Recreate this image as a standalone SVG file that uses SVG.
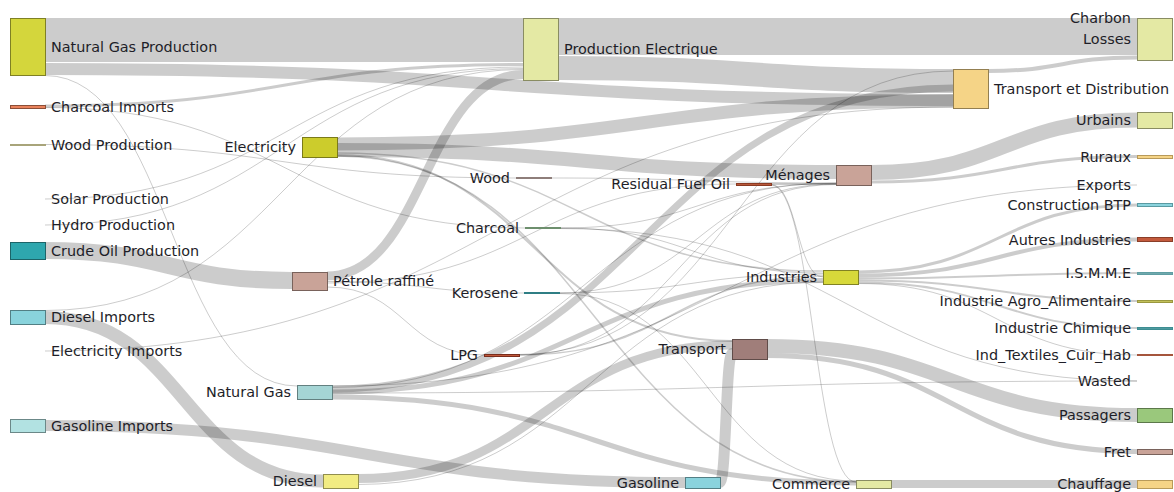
<svg xmlns="http://www.w3.org/2000/svg" width="1174" height="492" viewBox="0 0 1174 492">
  <style>
    .link { fill: none; stroke: #000; stroke-opacity: 0.2; }
    .node rect { shape-rendering: crispEdges; stroke-width: 1; }
    .node text { font-family: "DejaVu Sans", "Noto Sans", sans-serif; font-size: 14.4px; fill: #1e1e28; dominant-baseline: central; }
    .end { text-anchor: end; }
  </style>
  <rect width="1174" height="492" fill="#fff"/>

  <!-- energy flows, drawn beneath the nodes -->
  <g id="links">
    <path class="link" stroke-width="44" d="M45,40 C284,40 284,40 523,40"/>
    <path class="link" stroke-width="12" d="M45,69 C499,69 499,100 953,100"/>
    <path class="link" stroke-width="1" d="M45,75.5 C171,75.5 171,386 297,386"/>
    <path class="link" stroke-width="3" d="M45,106 C284,106 284,64.5 523,64.5"/>
    <path class="link" stroke-width="1" d="M45,107.5 C285,107.5 285,228 525,228"/>
    <path class="link" stroke-width="1" d="M45,144.5 C280.5,144.5 280.5,178 516,178"/>
    <path class="link" stroke-width="1" d="M45,199 C284,199 284,67 523,67"/>
    <path class="link" stroke-width="1" d="M45,225 C284,225 284,68.5 523,68.5"/>
    <path class="link" stroke-width="17" d="M45,250.5 C168.5,250.5 168.5,280.5 292,280.5"/>
    <path class="link" stroke-width="13" d="M45,317.5 C184,317.5 184,481 323,481"/>
    <path class="link" stroke-width="1" d="M45,310.5 C284,310.5 284,69.5 523,69.5"/>
    <path class="link" stroke-width="1" d="M45,351 C499,351 499,107 953,107"/>
    <path class="link" stroke-width="11" d="M45,425.5 C365,425.5 365,482.5 685,482.5"/>

    <path class="link" stroke-width="13" d="M337,144 C645,144 645,101 953,101"/>
    <path class="link" stroke-width="14" d="M337,150 C586.5,150 586.5,172 836,172"/>
    <path class="link" stroke-width="2" d="M337,155 C534.5,155 534.5,341 732,341"/>
    <path class="link" stroke-width="1.5" d="M337,156 C596.5,156 596.5,482 856,482"/>
    <path class="link" stroke-width="1.5" d="M337,153 C580,153 580,271 823,271"/>

    <path class="link" stroke-width="9" d="M327,276 C425,276 425,74.5 523,74.5"/>
    <path class="link" stroke-width="1" d="M327,281.5 C425.5,281.5 425.5,293 524,293"/>
    <path class="link" stroke-width="1" d="M327,287 C405.5,287 405.5,355 484,355"/>
    <path class="link" stroke-width="1" d="M327,283 C531.5,283 531.5,184 736,184"/>

    <path class="link" stroke-width="7" d="M332,389 C642.5,389 642.5,88 953,88"/>
    <path class="link" stroke-width="5" d="M332,392 C577.5,392 577.5,280.5 823,280.5"/>
    <path class="link" stroke-width="5" d="M332,397 C594,397 594,483 856,483"/>
    <path class="link" stroke-width="1" d="M332,393 C734.5,393 734.5,381 1137,381"/>
    <path class="link" stroke-width="1" d="M332,386 C734.5,386 734.5,185 1137,185"/>
    <path class="link" stroke-width="1" d="M332,387.5 C584,387.5 584,183 836,183"/>

    <path class="link" stroke-width="9" d="M358,478.5 C545,478.5 545,345 732,345"/>
    <path class="link" stroke-width="1" d="M358,484.5 C590.5,484.5 590.5,282 823,282"/>
    <path class="link" stroke-width="11" d="M720,482.5 C726,482.5 726,353.5 732,353.5"/>

    <path class="link" stroke-width="37" d="M558,36.5 C847.5,36.5 847.5,36.5 1137,36.5"/>
    <path class="link" stroke-width="24" d="M558,68 C755.5,68 755.5,81 953,81"/>

    <path class="link" stroke-width="1" d="M551,178 C693.5,178 693.5,183 836,183"/>
    <path class="link" stroke-width="1" d="M560,228 C698,228 698,183.5 836,183.5"/>
    <path class="link" stroke-width="1" d="M560,228 C691.5,228 691.5,273 823,273"/>
    <path class="link" stroke-width="1" d="M560,228.5 C848.5,228.5 848.5,381 1137,381"/>
    <path class="link" stroke-width="1" d="M559,293 C697.5,293 697.5,184 836,184"/>
    <path class="link" stroke-width="1" d="M559,293 C691,293 691,274 823,274"/>
    <path class="link" stroke-width="1" d="M559,293.5 C707.5,293.5 707.5,481 856,481"/>
    <path class="link" stroke-width="1" d="M519,355 C677.5,355 677.5,184.5 836,184.5"/>
    <path class="link" stroke-width="1.5" d="M519,355 C671,355 671,276 823,276"/>
    <path class="link" stroke-width="1" d="M519,354.5 C736,354.5 736,71 953,71"/>

    <path class="link" stroke-width="2" d="M771,184 C803.5,184 803.5,184 836,184"/>
    <path class="link" stroke-width="1" d="M771,184.5 C797,184.5 797,277 823,277"/>
    <path class="link" stroke-width="1" d="M771,185 C813.5,185 813.5,482 856,482"/>

    <path class="link" stroke-width="14" d="M767,346 C952,346 952,415 1137,415"/>
    <path class="link" stroke-width="5" d="M767,355.5 C952,355.5 952,451.5 1137,451.5"/>
    <path class="link" stroke-width="15" d="M871,172.5 C1004,172.5 1004,120 1137,120"/>
    <path class="link" stroke-width="3" d="M871,182 C1004,182 1004,156.5 1137,156.5"/>
    <path class="link" stroke-width="8" d="M891,484 C1014,484 1014,484 1137,484"/>

    <path class="link" stroke-width="3" d="M858,272 C997.5,272 997.5,205 1137,205"/>
    <path class="link" stroke-width="4" d="M858,275.5 C997.5,275.5 997.5,239.5 1137,239.5"/>
    <path class="link" stroke-width="2" d="M858,278.5 C997.5,278.5 997.5,273 1137,273"/>
    <path class="link" stroke-width="2" d="M858,280.5 C997.5,280.5 997.5,301 1137,301"/>
    <path class="link" stroke-width="2" d="M858,282.5 C997.5,282.5 997.5,328 1137,328"/>
    <path class="link" stroke-width="1" d="M858,283.5 C997.5,283.5 997.5,355 1137,355"/>

    <path class="link" stroke-width="4" d="M988,71 C1062.5,71 1062.5,57.5 1137,57.5"/>
  </g>

  <!-- sources -->
  <g id="natural-gas-production" class="node"><rect x="10" y="18" width="35" height="57" fill="#d4d63c" stroke="#7f8024"/><text x="51" y="46.5">Natural Gas Production</text></g>
  <g id="charcoal-imports" class="node"><rect x="10" y="105" width="35" height="3" fill="#e9825c" stroke="#8c4e37"/><text x="51" y="106.5">Charcoal Imports</text></g>
  <g id="wood-production" class="node"><rect x="10" y="144" width="35" height="1" fill="#a8a47a" stroke="#a8a47a"/><text x="51" y="144.5">Wood Production</text></g>
  <g id="solar-production" class="node"><text x="51" y="199">Solar Production</text></g>
  <g id="hydro-production" class="node"><text x="51" y="225">Hydro Production</text></g>
  <g id="crude-oil-production" class="node"><rect x="10" y="242" width="35" height="17" fill="#2ea7ae" stroke="#1c6468"/><text x="51" y="250.5">Crude Oil Production</text></g>
  <g id="diesel-imports" class="node"><rect x="10" y="310" width="35" height="14" fill="#89d3dc" stroke="#527f84"/><text x="51" y="317">Diesel Imports</text></g>
  <g id="electricity-imports" class="node"><text x="51" y="351">Electricity Imports</text></g>
  <g id="gasoline-imports" class="node"><rect x="10" y="419" width="35" height="13" fill="#b2e2e2" stroke="#6b8888"/><text x="51" y="425.5">Gasoline Imports</text></g>

  <!-- carriers -->
  <g id="electricity" class="node"><rect x="302" y="137" width="35" height="20" fill="#cccc2c" stroke="#7a7a1a"/><text class="end" x="296" y="147">Electricity</text></g>
  <g id="petrole-raffine" class="node"><rect x="292" y="272" width="35" height="18" fill="#c9a398" stroke="#79625b"/><text x="333" y="281">Pétrole raffiné</text></g>
  <g id="natural-gas" class="node"><rect x="297" y="385" width="35" height="14" fill="#a5d5d5" stroke="#638080"/><text class="end" x="291" y="392">Natural Gas</text></g>
  <g id="diesel" class="node"><rect x="323" y="474" width="35" height="14" fill="#f2ec82" stroke="#918e4e"/><text class="end" x="317" y="481">Diesel</text></g>
  <g id="production-electrique" class="node"><rect x="523" y="18" width="35" height="62" fill="#e4e9a4" stroke="#898c62"/><text x="564" y="49">Production Electrique</text></g>
  <g id="wood" class="node"><rect x="516" y="177.5" width="35" height="1" fill="#8e7e7a" stroke="#8e7e7a"/><text class="end" x="510" y="178">Wood</text></g>
  <g id="charcoal" class="node"><rect x="525" y="227.5" width="35" height="1" fill="#6d8f6d" stroke="#6d8f6d"/><text class="end" x="519" y="228">Charcoal</text></g>
  <g id="kerosene" class="node"><rect x="524" y="292.5" width="35" height="1" fill="#2f7e84" stroke="#2f7e84"/><text class="end" x="518" y="293">Kerosene</text></g>
  <g id="lpg" class="node"><rect x="484" y="354" width="35" height="2" fill="#c0583a" stroke="#7a2e1e"/><text class="end" x="478" y="355">LPG</text></g>
  <g id="residual-fuel-oil" class="node"><rect x="736" y="183" width="35" height="2" fill="#b8583a" stroke="#8a3a22"/><text class="end" x="730" y="184">Residual Fuel Oil</text></g>

  <!-- sectors -->
  <g id="menages" class="node"><rect x="836" y="165" width="35" height="20" fill="#c9a398" stroke="#79625b"/><text class="end" x="830" y="175">Ménages</text></g>
  <g id="industries" class="node"><rect x="823" y="270" width="35" height="14" fill="#d7d93a" stroke="#818223"/><text class="end" x="817" y="277">Industries</text></g>
  <g id="transport" class="node"><rect x="732" y="339" width="35" height="20" fill="#a07e7a" stroke="#604c49"/><text class="end" x="726" y="349">Transport</text></g>
  <g id="gasoline" class="node"><rect x="685" y="477" width="35" height="11" fill="#8ad3dd" stroke="#537f85"/><text class="end" x="679" y="482.5">Gasoline</text></g>
  <g id="commerce" class="node"><rect x="856" y="480" width="35" height="8" fill="#e4e9a4" stroke="#898c62"/><text class="end" x="850" y="484">Commerce</text></g>
  <g id="transport-et-distribution" class="node"><rect x="953" y="69" width="35" height="39" fill="#f5d487" stroke="#937f51"/><text x="994" y="88.5">Transport et Distribution</text></g>

  <!-- final uses -->
  <g id="charbon" class="node"><text class="end" x="1131" y="18">Charbon</text></g>
  <g id="losses" class="node"><rect x="1137" y="18" width="35" height="42" fill="#e4e9a4" stroke="#898c62"/><text class="end" x="1131" y="39">Losses</text></g>
  <g id="urbains" class="node"><rect x="1137" y="112" width="35" height="16" fill="#e4e9a4" stroke="#898c62"/><text class="end" x="1131" y="120">Urbains</text></g>
  <g id="ruraux" class="node"><rect x="1137" y="155" width="35" height="3" fill="#f5d487" stroke="#b89a5a"/><text class="end" x="1131" y="156.5">Ruraux</text></g>
  <g id="exports" class="node"><text class="end" x="1131" y="185">Exports</text></g>
  <g id="construction-btp" class="node"><rect x="1137" y="203" width="35" height="3" fill="#8ad3dd" stroke="#5a9aa2"/><text class="end" x="1131" y="205">Construction BTP</text></g>
  <g id="autres-industries" class="node"><rect x="1137" y="237" width="35" height="4" fill="#c35a3c" stroke="#8a3e28"/><text class="end" x="1131" y="239.5">Autres Industries</text></g>
  <g id="ismme" class="node"><rect x="1137" y="272" width="35" height="2" fill="#6fa8ad" stroke="#5f9ea3"/><text class="end" x="1131" y="273">I.S.M.M.E</text></g>
  <g id="industrie-agro-alimentaire" class="node"><rect x="1137" y="300" width="35" height="2" fill="#c2c05a" stroke="#9a9840"/><text class="end" x="1131" y="301">Industrie Agro_Alimentaire</text></g>
  <g id="industrie-chimique" class="node"><rect x="1137" y="327" width="35" height="2" fill="#4e9a9f" stroke="#3d8d92"/><text class="end" x="1131" y="328">Industrie Chimique</text></g>
  <g id="ind-textiles-cuir-hab" class="node"><rect x="1137" y="354.5" width="35" height="1" fill="#a5553c" stroke="#a5553c"/><text class="end" x="1131" y="355">Ind_Textiles_Cuir_Hab</text></g>
  <g id="wasted" class="node"><text class="end" x="1131" y="381">Wasted</text></g>
  <g id="passagers" class="node"><rect x="1137" y="408" width="35" height="14" fill="#9ac87c" stroke="#5c784a"/><text class="end" x="1131" y="415">Passagers</text></g>
  <g id="fret" class="node"><rect x="1137" y="449" width="35" height="5" fill="#c9a398" stroke="#79625b"/><text class="end" x="1131" y="451.5">Fret</text></g>
  <g id="chauffage" class="node"><rect x="1137" y="480" width="35" height="8" fill="#f5d487" stroke="#b89a5a"/><text class="end" x="1131" y="484">Chauffage</text></g>
</svg>
